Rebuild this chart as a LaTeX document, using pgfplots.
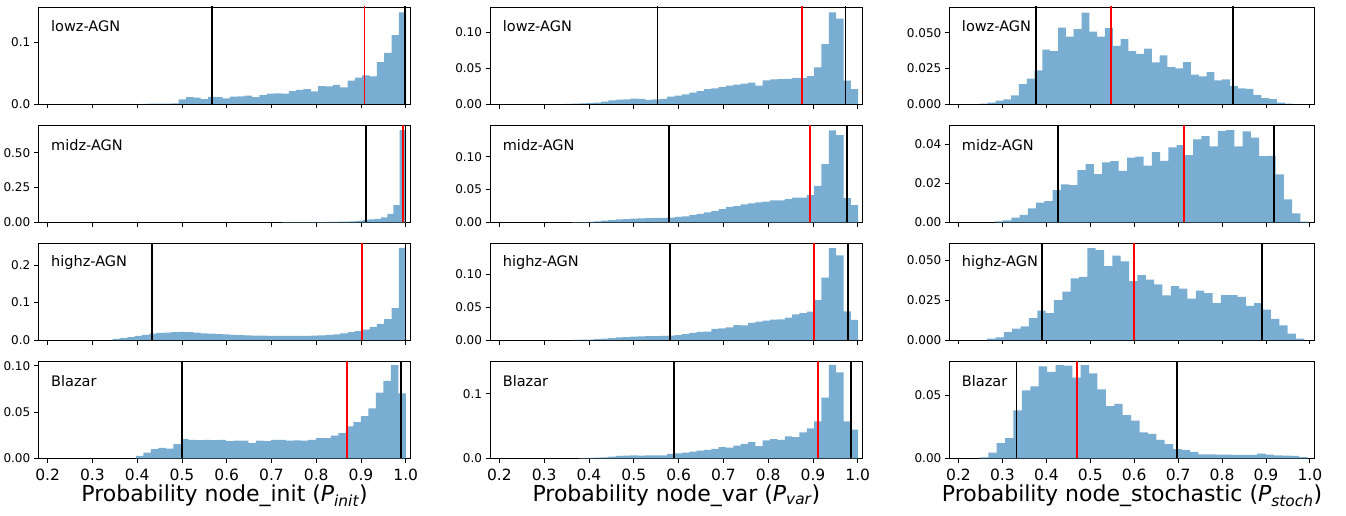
\documentclass[border=0pt]{standalone}
\usepackage{fontspec}
\setmainfont{DejaVu Sans}
\usepackage{pgfplots}
\pgfplotsset{compat=1.18}
\definecolor{histblue}{RGB}{121,173,210}
\pgfplotsset{
  hp/.style={scale only axis, anchor=south west, xmin=0.179, xmax=1.011, ymin=0, height=97pt,
    tick align=outside, tick pos=left, major tick length=4.5pt,
    axis line style={line width=0.9pt, black}, tick style={line width=0.9pt, black},
    xtick={0.2,0.3,0.4,0.5,0.6,0.7,0.8,0.9,1.0}, xticklabels={},
    scaled y ticks=false, scaled x ticks=false,
    yticklabel style={font=\fontsize{12}{14}\selectfont},
    xticklabel style={font=\fontsize{15.5}{18}\selectfont, yshift=-3pt},
    xlabel style={font=\fontsize{22}{26}\selectfont, yshift=3pt}},
  bot/.style={xticklabels={0.2,0.3,0.4,0.5,0.6,0.7,0.8,0.9,1.0}},
  c1/.style={at={(38.3pt,#1)}, width=372.4pt},
  c2/.style={at={(490pt,#1)}, width=372.7pt},
  c3/.style={at={(949.3pt,#1)}, width=365.4pt},
  hist/.style={fill=histblue, draw=none, const plot mark left},
}
\newcommand{\vl}[2]{\addplot[#1, line width=1.8pt] coordinates {(#2,0) (#2,1)};}
\newcommand{\plab}[1]{\node[anchor=west, font=\fontsize{14.5}{17}\selectfont] at (rel axis cs:0.025,0.8) {#1};}
\begin{document}
\begin{tikzpicture}
\path[use as bounding box] (0pt,0pt) rectangle (1346pt,515pt);
% ---------------- column 1: node_init ----------------
\begin{axis}[hp, c1=411pt, ymax=0.1578, ytick={0,0.1}, yticklabels={0.0,0.1}]
\addplot[hist] coordinates {(0.4106,0.0003)(0.4270,0.0005)(0.4434,0.0006)(0.4598,0.0008)(0.4762,0.001)(0.4926,0.0076)(0.5090,0.011)(0.5254,0.0105)(0.5418,0.008)(0.5582,0.0114)(0.5746,0.011)(0.5910,0.009)(0.6074,0.012)(0.6238,0.0124)(0.6402,0.0135)(0.6566,0.011)(0.6730,0.0146)(0.6894,0.0168)(0.7058,0.0173)(0.7222,0.0168)(0.7386,0.021)(0.7550,0.023)(0.7714,0.024)(0.7878,0.0205)(0.8042,0.029)(0.8206,0.0286)(0.8370,0.031)(0.8534,0.027)(0.8698,0.038)(0.8862,0.043)(0.9026,0.0465)(0.9190,0.045)(0.9354,0.068)(0.9518,0.083)(0.9682,0.112)(0.9846,0.149)(1.0010,0.149)} \closedcycle;
\vl{black}{0.567}\vl{red}{0.9077}\vl{black}{0.9985}
\plab{lowz-AGN}
\end{axis}
\begin{axis}[hp, c1=292.7pt, ymax=0.6986, ytick={0,0.25,0.5}, yticklabels={0.00,0.25,0.50}]
\addplot[hist] coordinates {(0.7240,0.0004)(0.7378,0.0006)(0.7516,0.0008)(0.7654,0.001)(0.7792,0.0012)(0.7930,0.0015)(0.8068,0.002)(0.8206,0.0025)(0.8344,0.003)(0.8482,0.004)(0.8620,0.005)(0.8758,0.007)(0.8896,0.010)(0.9034,0.017)(0.9172,0.0215)(0.9310,0.024)(0.9448,0.036)(0.9586,0.060)(0.9724,0.124)(0.9862,0.663)(1.0,0.663)} \closedcycle;
\vl{black}{0.9113}\vl{red}{0.9935}\vl{black}{0.9995}
\plab{midz-AGN}
\end{axis}
\begin{axis}[hp, c1=175pt, ymax=0.2587, ytick={0,0.1,0.2}, yticklabels={0.0,0.1,0.2}]
\addplot[hist] coordinates {(0.3450,0.003)(0.3614,0.005)(0.3778,0.008)(0.3942,0.011)(0.4106,0.014)(0.4270,0.017)(0.4434,0.019)(0.4598,0.020)(0.4762,0.021)(0.4926,0.0215)(0.5090,0.021)(0.5254,0.020)(0.5418,0.018)(0.5582,0.017)(0.5746,0.016)(0.5910,0.015)(0.6074,0.014)(0.6238,0.013)(0.6402,0.0125)(0.6566,0.012)(0.6730,0.0115)(0.6894,0.011)(0.7058,0.011)(0.7222,0.011)(0.7386,0.011)(0.7550,0.011)(0.7714,0.011)(0.7878,0.0115)(0.8042,0.0125)(0.8206,0.0135)(0.8370,0.015)(0.8534,0.0175)(0.8698,0.021)(0.8862,0.024)(0.9026,0.028)(0.9190,0.035)(0.9354,0.043)(0.9518,0.056)(0.9682,0.085)(0.9846,0.246)(1.0010,0.246)} \closedcycle;
\vl{black}{0.4324}\vl{red}{0.9017}\vl{black}{0.9995}
\plab{highz-AGN}
\end{axis}
\begin{axis}[hp, bot, c1=56.7pt, ymax=0.1047, ytick={0,0.05,0.1}, yticklabels={0.00,0.05,0.10},
  xlabel={Probability node\_init ({\itshape P}\textsubscript{\itshape init})}]
\addplot[hist] coordinates {(0.3970,0.0025)(0.41375,0.0062)(0.4305,0.0098)(0.44725,0.0113)(0.464,0.0105)(0.48075,0.0153)(0.4975,0.0207)(0.51425,0.020)(0.531,0.0196)(0.54775,0.020)(0.5645,0.0196)(0.58125,0.020)(0.598,0.0185)(0.61475,0.019)(0.6315,0.019)(0.64825,0.0164)(0.665,0.019)(0.68175,0.0185)(0.6985,0.020)(0.71525,0.020)(0.732,0.019)(0.74875,0.0193)(0.7655,0.019)(0.78225,0.020)(0.799,0.0218)(0.81575,0.0218)(0.8325,0.0244)(0.84925,0.0273)(0.866,0.0345)(0.88275,0.039)(0.8995,0.0455)(0.91625,0.0538)(0.933,0.0709)(0.94975,0.0836)(0.9665,0.1007)(0.98325,0.070)(1.0,0.070)} \closedcycle;
\vl{black}{0.4995}\vl{red}{0.868}\vl{black}{0.9888}
\plab{Blazar}
\end{axis}
% ---------------- column 2: node_var ----------------
\begin{axis}[hp, c2=411pt, ymax=0.1358, ytick={0,0.05,0.1}, yticklabels={0.00,0.05,0.10}]
\addplot[hist] coordinates {(0.3450,0.0003)(0.3614,0.0005)(0.3778,0.0008)(0.3942,0.0012)(0.4106,0.0019)(0.4270,0.0033)(0.4434,0.005)(0.4598,0.006)(0.4762,0.0065)(0.4926,0.0074)(0.5090,0.007)(0.5254,0.0056)(0.5418,0.0065)(0.5582,0.007)(0.5746,0.0102)(0.5910,0.0116)(0.6074,0.0135)(0.6238,0.0158)(0.6402,0.018)(0.6566,0.0209)(0.6730,0.0219)(0.6894,0.0237)(0.7058,0.0256)(0.7222,0.027)(0.7386,0.0284)(0.7550,0.0298)(0.7714,0.0256)(0.7878,0.033)(0.8042,0.0344)(0.8206,0.0349)(0.8370,0.0353)(0.8534,0.0367)(0.8698,0.0363)(0.8862,0.039)(0.9026,0.0512)(0.9190,0.0837)(0.9354,0.1284)(0.9518,0.1195)(0.9682,0.0326)(0.9846,0.0209)(1.0010,0.0209)} \closedcycle;
\vl{black}{0.553}\vl{red}{0.875}\vl{black}{0.9724}
\plab{lowz-AGN}
\end{axis}
\begin{axis}[hp, c2=292.7pt, ymax=0.1482, ytick={0,0.05,0.1}, yticklabels={0.00,0.05,0.10}]
\addplot[hist] coordinates {(0.3614,0.0002)(0.3778,0.0004)(0.3942,0.0008)(0.4106,0.0015)(0.4270,0.0025)(0.4434,0.0035)(0.4598,0.0045)(0.4762,0.005)(0.4926,0.0055)(0.5090,0.006)(0.5254,0.0063)(0.5418,0.0066)(0.5582,0.0068)(0.5746,0.0071)(0.5910,0.0081)(0.6074,0.0091)(0.6238,0.0112)(0.6402,0.0127)(0.6566,0.0152)(0.6730,0.0173)(0.6894,0.0203)(0.7058,0.0234)(0.7222,0.0249)(0.7386,0.0274)(0.7550,0.029)(0.7714,0.0305)(0.7878,0.0315)(0.8042,0.0335)(0.8206,0.0335)(0.8370,0.0355)(0.8534,0.0376)(0.8698,0.0376)(0.8862,0.0416)(0.9026,0.0558)(0.9190,0.0888)(0.9354,0.1406)(0.9518,0.133)(0.9682,0.037)(0.9846,0.0264)(1.0010,0.0264)} \closedcycle;
\vl{black}{0.5777}\vl{red}{0.8942}\vl{black}{0.9762}
\plab{midz-AGN}
\end{axis}
\begin{axis}[hp, c2=175pt, ymax=0.1477, ytick={0,0.05,0.1}, yticklabels={0.00,0.05,0.10}]
\addplot[hist] coordinates {(0.3614,0.0002)(0.3778,0.0004)(0.3942,0.0007)(0.4106,0.0012)(0.4270,0.002)(0.4434,0.003)(0.4598,0.004)(0.4762,0.0045)(0.4926,0.005)(0.5090,0.0055)(0.5254,0.0058)(0.5418,0.006)(0.5582,0.0063)(0.5746,0.0066)(0.5910,0.0076)(0.6074,0.0091)(0.6238,0.0107)(0.6402,0.0122)(0.6566,0.0127)(0.6730,0.0168)(0.6894,0.0178)(0.7058,0.0193)(0.7222,0.0228)(0.7386,0.0223)(0.7550,0.0259)(0.7714,0.0279)(0.7878,0.0294)(0.8042,0.031)(0.8206,0.0315)(0.8370,0.034)(0.8534,0.039)(0.8698,0.0411)(0.8862,0.0431)(0.9026,0.0609)(0.9190,0.0949)(0.9354,0.140)(0.9518,0.129)(0.9682,0.0437)(0.9846,0.0305)(1.0010,0.0305)} \closedcycle;
\vl{black}{0.58}\vl{red}{0.9017}\vl{black}{0.978}
\plab{highz-AGN}
\end{axis}
\begin{axis}[hp, bot, c2=56.7pt, ymax=0.150, ytick={0,0.1}, yticklabels={0.0,0.1},
  xlabel={Probability node\_var ({\itshape P}\textsubscript{\itshape var})}]
\addplot[hist] coordinates {(0.3778,0.0003)(0.3942,0.0006)(0.4106,0.001)(0.4270,0.0016)(0.4434,0.0026)(0.4598,0.0036)(0.4762,0.0042)(0.4926,0.0047)(0.5090,0.0042)(0.5254,0.0047)(0.5418,0.0047)(0.5582,0.0047)(0.5746,0.0068)(0.5910,0.0078)(0.6074,0.0089)(0.6238,0.0104)(0.6402,0.012)(0.6566,0.013)(0.6730,0.0146)(0.6894,0.0172)(0.7058,0.0167)(0.7222,0.0198)(0.7386,0.0224)(0.7550,0.025)(0.7714,0.0188)(0.7878,0.0276)(0.8042,0.0297)(0.8206,0.0286)(0.8370,0.0339)(0.8534,0.0328)(0.8698,0.0401)(0.8862,0.0464)(0.9026,0.0573)(0.9190,0.0938)(0.9354,0.1443)(0.9518,0.133)(0.9682,0.0573)(0.9846,0.0443)(1.0010,0.0443)} \closedcycle;
\vl{black}{0.5903}\vl{red}{0.9113}\vl{black}{0.985}
\plab{Blazar}
\end{axis}
% ---------------- column 3: node_stochastic ----------------
\begin{axis}[hp, c3=411pt, ymax=0.0682, ytick={0,0.025,0.05}, yticklabels={0.000,0.025,0.050}]
\addplot[hist] coordinates {(0.2486,0.0002)(0.2664,0.001)(0.2842,0.0023)(0.3020,0.0033)(0.3198,0.006)(0.3376,0.014)(0.3554,0.0178)(0.3732,0.0236)(0.3910,0.0383)(0.4088,0.0371)(0.4266,0.0537)(0.4444,0.0474)(0.4622,0.0526)(0.4800,0.0643)(0.4978,0.0509)(0.5156,0.0474)(0.5334,0.0533)(0.5512,0.0409)(0.5690,0.0456)(0.5868,0.0371)(0.6046,0.0353)(0.6224,0.039)(0.6402,0.0292)(0.6580,0.0341)(0.6758,0.0259)(0.6936,0.025)(0.7114,0.0294)(0.7292,0.0206)(0.7470,0.0194)(0.7648,0.0224)(0.7826,0.0166)(0.8004,0.0173)(0.8182,0.0126)(0.8360,0.011)(0.8538,0.0107)(0.8716,0.0065)(0.8894,0.0042)(0.9072,0.0035)(0.9250,0.0009)(0.9428,0.0002)(0.9606,0.0002)} \closedcycle;
\vl{black}{0.3763}\vl{red}{0.5464}\vl{black}{0.8245}
\plab{lowz-AGN}
\end{axis}
\begin{axis}[hp, c3=292.7pt, ymax=0.0499, ytick={0,0.02,0.04}, yticklabels={0.00,0.02,0.04}]
\addplot[hist] coordinates {(0.2828,0.0005)(0.3016,0.001)(0.3204,0.0024)(0.3392,0.0038)(0.3580,0.0072)(0.3768,0.0101)(0.3956,0.0109)(0.4144,0.0166)(0.4332,0.0195)(0.4520,0.0191)(0.4708,0.0268)(0.4896,0.0299)(0.5084,0.0248)(0.5272,0.0308)(0.5460,0.0315)(0.5648,0.0265)(0.5836,0.0333)(0.6024,0.0338)(0.6212,0.0291)(0.6400,0.0361)(0.6588,0.0316)(0.6776,0.0385)(0.6964,0.0397)(0.7152,0.0345)(0.7340,0.0427)(0.7528,0.0443)(0.7716,0.039)(0.7904,0.047)(0.8092,0.0474)(0.8280,0.0391)(0.8468,0.0468)(0.8656,0.0436)(0.8844,0.034)(0.9032,0.0342)(0.9220,0.0246)(0.9408,0.0118)(0.9596,0.0046)(0.9784,0.0003)(0.9972,0.0003)} \closedcycle;
\vl{black}{0.4264}\vl{red}{0.7136}\vl{black}{0.9187}
\plab{midz-AGN}
\end{axis}
\begin{axis}[hp, c3=175pt, ymax=0.0609, ytick={0,0.025,0.05}, yticklabels={0.000,0.025,0.050}]
\addplot[hist] coordinates {(0.2653,0.0008)(0.2843,0.0017)(0.3033,0.005)(0.3223,0.0071)(0.3413,0.0086)(0.3603,0.0138)(0.3793,0.0184)(0.3983,0.0169)(0.4173,0.0251)(0.4363,0.0303)(0.4553,0.0387)(0.4743,0.0397)(0.4933,0.0577)(0.5123,0.0565)(0.5313,0.0464)(0.5503,0.0529)(0.5693,0.0494)(0.5883,0.037)(0.6073,0.0408)(0.6263,0.0379)(0.6453,0.0349)(0.6643,0.028)(0.6833,0.0339)(0.7023,0.0322)(0.7213,0.0259)(0.7403,0.031)(0.7593,0.0295)(0.7783,0.0232)(0.7973,0.0282)(0.8163,0.0282)(0.8353,0.027)(0.8543,0.0215)(0.8733,0.0232)(0.8923,0.019)(0.9113,0.0132)(0.9303,0.0092)(0.9493,0.004)(0.9683,0.0008)(0.9873,0.0008)} \closedcycle;
\vl{black}{0.3892}\vl{red}{0.6004}\vl{black}{0.8906}
\plab{highz-AGN}
\end{axis}
\begin{axis}[hp, bot, c3=56.7pt, ymax=0.077, ytick={0,0.05}, yticklabels={0.00,0.05},
  xlabel={Probability node\_stochastic ({\itshape P}\textsubscript{\itshape stoch})}]
\addplot[hist] coordinates {(0.2486,0.0008)(0.2677,0.0045)(0.2869,0.012)(0.3060,0.016)(0.3251,0.038)(0.3443,0.054)(0.3634,0.057)(0.3825,0.073)(0.4016,0.0687)(0.4208,0.074)(0.4399,0.0735)(0.4590,0.064)(0.4782,0.074)(0.4973,0.0674)(0.5164,0.0548)(0.5356,0.0414)(0.5547,0.0433)(0.5738,0.0342)(0.5929,0.030)(0.6121,0.0206)(0.6312,0.0193)(0.6503,0.0147)(0.6695,0.0112)(0.6886,0.0072)(0.7077,0.0067)(0.7269,0.0051)(0.7460,0.0032)(0.7651,0.0032)(0.7842,0.0029)(0.8034,0.0029)(0.8225,0.0027)(0.8416,0.0027)(0.8608,0.0027)(0.8799,0.0037)(0.8990,0.0029)(0.9182,0.0024)(0.9373,0.0021)(0.9564,0.0019)(0.9755,0.001)(0.9947,0.001)} \closedcycle;
\vl{black}{0.3322}\vl{red}{0.469}\vl{black}{0.6969}
\plab{Blazar}
\end{axis}
\end{tikzpicture}
\end{document}
